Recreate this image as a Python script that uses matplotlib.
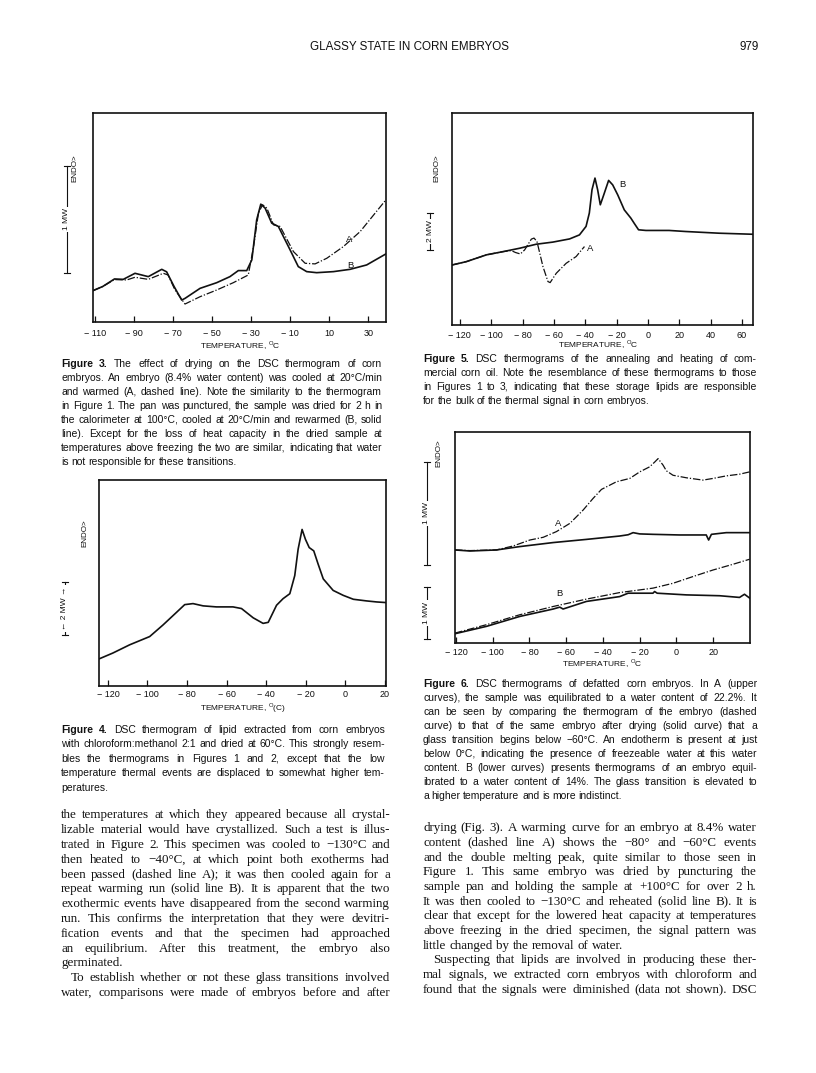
import math
import matplotlib
matplotlib.use("Agg")
import matplotlib.pyplot as plt
from matplotlib.lines import Line2D
from matplotlib.backends.backend_agg import get_hinting_flag

plt.rcParams['font.family'] = ['Liberation Sans', 'DejaVu Sans']
plt.rcParams['mathtext.fontset'] = 'custom'
plt.rcParams['mathtext.rm'] = 'Liberation Sans'

# ---- data (signal in % of plot height) ----
# Figure 3: embryo 8.4% water, A dashed = warmed, B solid = dried+rewarmed
f3_t_a = [-111, -106, -100, -93.8, -89.5, -82.7, -75, -72.6, -69, -63.9, -56.2, -47.7, -39.2, -31.5,
          -28.8, -26.3, -24.2, -22, -18.6, -15.2, -8.4, -2.4, 2.7, 8.7, 17.2, 25.8, 39]
f3_y_a = [15, 17, 20.3, 20.1, 21.4, 20.4, 23.3, 22.5, 15.3, 8.6, 12.1, 15.3, 18.8, 22.5,
          36.1, 52.1, 56.1, 54.5, 46.5, 45.7, 33.7, 28.1, 27.8, 30.5, 36.1, 43.3, 58.5]
f3_t_b = [-111, -106, -100, -95.5, -89.5, -82.7, -75.8, -73.3, -69.5, -65.6, -63.9, -56.2, -47.7, -40.9,
          -36.6, -32.3, -29.7, -27.2, -25.1, -22.9, -19.5, -16.1, -10.1, -5.9, -1.6, 3.5, 12.1, 20.6, 29.1, 39]
f3_y_b = [15, 17, 20.6, 20.4, 23.3, 21.7, 25.2, 24, 17, 10.5, 11.3, 16.1, 18.8, 21.7,
          24.6, 24.6, 29.7, 48.9, 56.4, 54.5, 47.3, 45.7, 34.5, 26.5, 24.1, 23.6, 24.1, 25.2, 27.3, 32.6]
f3_ticks = [-110, -90, -70, -50, -30, -10, 10, 30]

# Figure 4: extracted lipid
f4_t = [-124.6, -117.5, -109, -98.9, -92.2, -85.4, -81.2, -77, -71.9, -65.2, -56.8, -52.5, -46.6, -41.6,
        -39, -34.8, -31.5, -28.1, -25.6, -23.9, -21.9, -20.2, -18.3, -16, -13.8, -11.2, -6.2, -1.1,
        4, 10.7, 15.8, 20.5]
f4_y = [13.1, 16, 20, 24, 29.6, 35.7, 39.5, 40, 38.9, 38.4, 38.4, 37.6, 33.1, 30.4,
        30.9, 39.2, 42.4, 44.8, 53.6, 66.4, 76, 71.2, 67.2, 65.6, 59.2, 52, 46.4, 44,
        42.1, 41.3, 40.8, 40.5]
f4_ticks = [-120, -100, -80, -60, -40, -20, 0, 20]

# Figure 5: commercial corn oil
f5_t_a = [-125, -115.8, -103, -92.5, -87.2, -84.5, -81.4, -78.7, -74.4, -72.7, -70.8, -67, -63.8,
          -62.4, -58.5, -52.2, -45.8, -42.7, -40.5]
f5_y_a = [28.3, 29.9, 33.1, 34.6, 35.1, 34.2, 33.5, 35.4, 40.5, 41, 39.4, 27.6, 20.5,
          20, 24.4, 29.1, 32.3, 35.1, 37]
f5_t_b = [-125, -115.8, -103, -92.5, -81.9, -71.3, -60.7, -50, -43.7, -39.5, -37.4, -35.7, -33.8,
          -32.1, -30.4, -28.2, -25.1, -22.5, -19.3, -15.1, -10.9, -8.8, -6, -1.3, 13.5, 24.1, 45.3, 67]
f5_y_b = [28.3, 29.9, 33.1, 34.6, 36.2, 38.1, 39.1, 40.6, 42.5, 46.5, 52.8, 63.8, 69.3,
          63.8, 56.7, 61.4, 68.2, 66.1, 61.4, 54.3, 50.4, 48, 44.9, 44.6, 44.6, 44.1, 43.3, 42.8]
f5_ticks = [-120, -100, -80, -60, -40, -20, 0, 20, 40, 60]

# Figure 6: defatted embryos, A = 22.2% water, B = 14% water
f6_t_a_dash = [-120.5, -112.4, -97.9, -88.8, -79.8, -72.5, -65.3, -58, -50.8, -45.4, -40.8, -32.7, -25.4,
               -20, -14.6, -11.8, -10, -7.3, -5.5, -1.9, 5.4, 14.4, 19.9, 27.1, 34.3, 39.8]
f6_y_a_dash = [44.1, 43.8, 44.1, 46, 48.8, 50.1, 52.8, 56.7, 63, 68.5, 72.8, 76.4, 78,
               81.1, 83.5, 85.8, 87.4, 84.3, 81.6, 79.5, 78.3, 77.2, 78, 79.2, 80, 81.1]
f6_t_a_solid = [-120.5, -112.4, -97.9, -85.2, -67.1, -49, -30.9, -26.3, -23.6, -20, -12.8, 1.7, 16.2,
                17.5, 19, 27.1, 39.8]
f6_y_a_solid = [44.1, 43.6, 44.1, 45.7, 47.6, 49.1, 50.7, 51.3, 52.3, 51.7, 51.5, 51.2, 51.2,
                48.8, 51.5, 52.3, 52.3]
f6_t_b_dash = [-120.5, -103.3, -85.2, -67.1, -49, -30.9, -12.8, -1.9, 9, 19.9, 30.7, 39.8]
f6_y_b_dash = [4.7, 8.7, 13.4, 17.3, 20.8, 23.9, 26, 28.3, 31.5, 34.6, 37.3, 39.7]
f6_t_b_solid = [-120.5, -103.3, -85.2, -67.1, -63.5, -61.7, -49, -30.9, -26.3, -12.8, -11.9, -10.5,
                5.4, 23.5, 34.3, 37, 39.8]
f6_y_b_solid = [4.4, 7.9, 12.6, 16.1, 17, 16.1, 19.7, 22, 23.6, 23.6, 24.4, 23.6,
                22.8, 22.4, 21.6, 23.1, 21.3]
f6_ticks = [-120, -100, -80, -60, -40, -20, 0, 20]

# ---- text ----
cap3 = ["Figure 3. The effect of drying on the DSC thermogram of corn",
        "embryos. An embryo (8.4% water content) was cooled at 20°C/min",
        "and warmed (A, dashed line). Note the similarity to the thermogram",
        "in Figure 1. The pan was punctured, the sample was dried for 2 h in",
        "the calorimeter at 100°C, cooled at 20°C/min and rewarmed (B, solid",
        "line). Except for the loss of heat capacity in the dried sample at",
        "temperatures above freezing the two are similar, indicating that water",
        "is not responsible for these transitions."]
cap4 = ["Figure 4. DSC thermogram of lipid extracted from corn embryos",
        "with chloroform:methanol 2:1 and dried at 60°C. This strongly resem-",
        "bles the thermograms in Figures 1 and 2, except that the low",
        "temperature thermal events are displaced to somewhat higher tem-",
        "peratures."]
cap5 = ["Figure 5. DSC thermograms of the annealing and heating of com-",
        "mercial corn oil. Note the resemblance of these thermograms to those",
        "in Figures 1 to 3, indicating that these storage lipids are responsible",
        "for the bulk of the thermal signal in corn embryos."]
cap6 = ["Figure 6. DSC thermograms of defatted corn embryos. In A (upper",
        "curves), the sample was equilibrated to a water content of 22.2%. It",
        "can be seen by comparing the thermogram of the embryo (dashed",
        "curve) to that of the same embryo after drying (solid curve) that a",
        "glass transition begins below \u221260°C. An endotherm is present at just",
        "below 0°C, indicating the presence of freezeable water at this water",
        "content. B (lower curves) presents thermograms of an embryo equil-",
        "ibrated to a water content of 14%. The glass transition is elevated to",
        "a higher temperature and is more indistinct."]
body_left = ["the temperatures at which they appeared because all crystal-",
             "lizable material would have crystallized. Such a test is illus-",
             "trated in Figure 2. This specimen was cooled to \u2212130°C and",
             "then heated to \u221240°C, at which point both exotherms had",
             "been passed (dashed line A); it was then cooled again for a",
             "repeat warming run (solid line B). It is apparent that the two",
             "exothermic events have disappeared from the second warming",
             "run. This confirms the interpretation that they were devitri-",
             "fication events and that the specimen had approached",
             "an equilibrium. After this treatment, the embryo also",
             "germinated.",
             ">To establish whether or not these glass transitions involved",
             "water, comparisons were made of embryos before and after"]
body_right = ["drying (Fig. 3). A warming curve for an embryo at 8.4% water",
              "content (dashed line A) shows the \u221280° and \u221260°C events",
              "and the double melting peak, quite similar to those seen in",
              "Figure 1. This same embryo was dried by puncturing the",
              "sample pan and holding the sample at +100°C for over 2 h.",
              "It was then cooled to \u2212130°C and reheated (solid line B). It is",
              "clear that except for the lowered heat capacity at temperatures",
              "above freezing in the dried specimen, the signal pattern was",
              "little changed by the removal of water.",
              ">Suspecting that lipids are involved in producing these ther-",
              "mal signals, we extracted corn embryos with chloroform and",
              "found that the signals were diminished (data not shown). DSC"]

W, H = 816, 1073
fig = plt.figure(figsize=(W / 100, H / 100), dpi=100)
fig.patch.set_facecolor('white')
rend = fig.canvas.get_renderer()
INK = '#111111'


def panel(x0, y0, x1, y1, xlim, ticks, pad):
    ax = fig.add_axes([x0 / W, 1 - y1 / H, (x1 - x0) / W, (y1 - y0) / H])
    ax.set_xlim(*xlim)
    ax.set_ylim(0, 100)
    ax.set_yticks([])
    ax.set_xticks(ticks)
    ax.set_xticklabels([str(t).replace('-', '\u2212 ') for t in ticks])
    ax.tick_params(axis='x', direction='in', length=4, width=0.9, pad=pad,
                   labelsize=6.5, colors=INK)
    for s in ax.spines.values():
        s.set_linewidth(1.2)
        s.set_color(INK)
    return ax


def ftext(x, y, s, **kw):
    kw.setdefault('color', INK)
    return fig.text(x / W, 1 - y / H, s, **kw)


def scale_bar(x, y0, y1, label):
    xs = [x / W, x / W]
    fig.add_artist(Line2D(xs, [1 - y0 / H, 1 - y1 / H], color=INK, lw=0.8))
    for yy in (y0, y1):
        fig.add_artist(Line2D([(x - 3) / W, (x + 3) / W], [1 - yy / H] * 2, color=INK, lw=0.8))
    ftext(x, (y0 + y1) / 2, label, rotation=90, ha='center', va='center', fontsize=6,
          bbox=dict(facecolor='white', edgecolor='none', pad=1.2))


def endo(x, y):
    ftext(x, y, 'ENDO>', rotation=90, ha='center', va='center', fontsize=5.8)


def baseline_fix(t):
    # Agg places each word's bitmap from its ink box; undo the rounding so
    # all words of a line sit on the same pixel baseline
    try:
        font = rend._prepare_font(t.get_fontproperties())
        font.set_text(t.get_text(), 0, flags=get_hinting_flag())
        _, h = font.get_width_height()
        d = font.get_descent()
        return h // 64 - math.floor((h - d) / 64) - d / 64
    except Exception:
        return 0.0


def put_lines(lines, x0, x1, y0, dy, size, family, last=(), bold_first=False):
    # one text per word, spread out to fill the column (justified)
    fam = [family, 'DejaVu Sans']
    for i, line in enumerate(lines):
        yb = round(y0 + i * dy + size * 1.389 * 0.34)
        xs = x0
        if line.startswith('>'):
            line = line[1:]
            xs = x0 + 10
        words = line.split()
        ts = []
        for k, w in enumerate(words):
            bold = bold_first and i == 0 and k < 2
            ts.append(ftext(0, yb, w, fontsize=size, family=fam, va='baseline', ha='left',
                            weight='bold' if bold else 'normal'))
        ws = [t.get_window_extent(rend).width for t in ts]
        if i in last or len(words) < 2:
            gap = size * 1.389 * 0.26
        else:
            gap = (x1 - xs - sum(ws)) / (len(words) - 1)
            if gap < 1.2:
                # line too long at this size: shrink it a little
                sc = (x1 - xs - 1.5 * (len(words) - 1)) / sum(ws)
                for t in ts:
                    t.set_fontsize(size * sc)
                ws = [w * sc for w in ws]
                gap = (x1 - xs - sum(ws)) / (len(words) - 1)
        x = xs
        for t, w in zip(ts, ws):
            t.set_x(x / W)
            t.set_y(1 - (yb + baseline_fix(t)) / H)
            x += w + gap


# ---- header ----
ftext(409, 47, 'GLASSY STATE IN CORN EMBRYOS', ha='center', va='center', fontsize=8.4)
ftext(749, 47, '979', ha='center', va='center', fontsize=8.4)

# ---- Figure 3 ----
ax3 = panel(93, 113, 386, 322, (-111, 39), f3_ticks, 5)
ax3.plot(f3_t_a, f3_y_a, color=INK, lw=0.9, dashes=(6, 1.5, 1, 1.5))
ax3.plot(f3_t_b, f3_y_b, color=INK, lw=1.2)
ax3.text(19.9, 39.3, 'A', fontsize=6.8, ha='center', va='center', color=INK)
ax3.text(21, 26.8, 'B', fontsize=6.8, ha='center', va='center', color=INK)
scale_bar(67, 166, 273, '1 MW')
endo(75, 168)
ftext(240, 346, r'TEMPERATURE, $^{\rm O}$C', ha='center', va='center', fontsize=6)
put_lines(cap3, 61, 382, 363, 14.1, 7.45, 'Liberation Sans', last=(7,), bold_first=True)

# ---- Figure 5 ----
ax5 = panel(452, 113, 753, 325, (-125, 67), f5_ticks, 4)
ax5.plot(f5_t_a, f5_y_a, color=INK, lw=0.9, dashes=(6, 1.5, 1, 1.5))
ax5.plot(f5_t_b, f5_y_b, color=INK, lw=1.2)
ax5.text(-37, 36.2, 'A', fontsize=6.8, ha='center', va='center', color=INK)
ax5.text(-16.5, 66.1, 'B', fontsize=6.8, ha='center', va='center', color=INK)
scale_bar(430, 213, 250, '2 MW')
endo(437, 168)
ftext(598, 345, r'TEMPERATURE, $^{\rm O}$C', ha='center', va='center', fontsize=6)
put_lines(cap5, 423, 757, 358, 14.3, 7.45, 'Liberation Sans', last=(3,), bold_first=True)

# ---- Figure 4 ----
ax4 = panel(99, 480, 386, 686, (-124.5, 20.5), f4_ticks, 3)
ax4.plot(f4_t, f4_y, color=INK, lw=1.2)
scale_bar(65, 582, 635, '\u2190 2 MW \u2192')
endo(85, 533)
ftext(243, 708, r'TEMPERATURE, $^{\rm O}$(C)', ha='center', va='center', fontsize=6)
put_lines(cap4, 61, 385, 729, 14.5, 7.45, 'Liberation Sans', last=(4,), bold_first=True)

# ---- Figure 6 ----
ax6 = panel(455, 432, 750, 643, (-120.5, 40), f6_ticks, 3.5)
ax6.plot(f6_t_a_dash, f6_y_a_dash, color=INK, lw=0.9, dashes=(6, 1.5, 1, 1.5))
ax6.plot(f6_t_a_solid, f6_y_a_solid, color=INK, lw=1.2)
ax6.plot(f6_t_b_dash, f6_y_b_dash, color=INK, lw=0.9, dashes=(6, 1.5, 1, 1.5))
ax6.plot(f6_t_b_solid, f6_y_b_solid, color=INK, lw=1.2)
ax6.text(-64.4, 56.7, 'A', fontsize=6.8, ha='center', va='center', color=INK)
ax6.text(-63.8, 23.5, 'B', fontsize=6.8, ha='center', va='center', color=INK)
scale_bar(427, 462, 565, '1 MW')
scale_bar(427, 587, 639, '1 MW')
endo(439, 453)
ftext(602, 664, r'TEMPERATURE, $^{\rm O}$C', ha='center', va='center', fontsize=6)
put_lines(cap6, 423, 757, 683, 14.1, 7.45, 'Liberation Sans', last=(8,), bold_first=True)

# ---- body text ----
put_lines(body_left, 61, 390, 814, 14.8, 9.4, 'Liberation Serif', last=(10,))
put_lines(body_right, 423, 757, 827, 14.65, 9.4, 'Liberation Serif', last=(8,))

fig.savefig('out.png', dpi=100, facecolor='white')
